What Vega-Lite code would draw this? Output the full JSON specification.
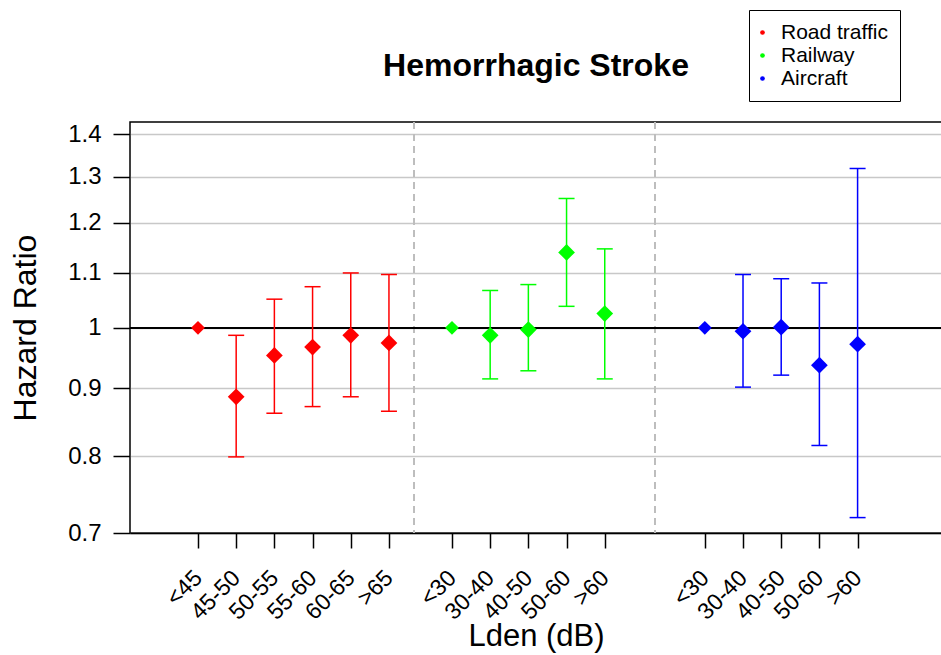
{
  "$schema": "https://vega.github.io/schema/vega-lite/v6.json",
  "width": 812,
  "height": 411,
  "autosize": {"type": "none"},
  "padding": {"left": 130, "top": 122, "right": 0, "bottom": 122},
  "background": "white",
  "config": {
    "view": {"stroke": "black", "strokeWidth": 1.5},
    "font": "Liberation Sans",
    "axis": {
      "labelFont": "Liberation Sans",
      "titleFont": "Liberation Sans",
      "labelColor": "black",
      "titleColor": "black",
      "tickColor": "black",
      "tickWidth": 1.5,
      "domainColor": "black",
      "domainWidth": 1.5,
      "titleFontWeight": "normal"
    }
  },
  "title": {
    "text": "Hemorrhagic Stroke",
    "font": "Liberation Sans",
    "fontSize": 32,
    "fontWeight": "bold",
    "color": "black",
    "anchor": "middle",
    "frame": "group",
    "baseline": "alphabetic",
    "offset": -98
  },
  "data": {
    "values": [
      {"source": "Road traffic", "label": "<45", "slot": 1, "hr": 1.0, "lo": null, "hi": null},
      {"source": "Road traffic", "label": "45-50", "slot": 2, "hr": 0.887, "lo": 0.799, "hi": 0.987},
      {"source": "Road traffic", "label": "50-55", "slot": 3, "hr": 0.953, "lo": 0.862, "hi": 1.051},
      {"source": "Road traffic", "label": "55-60", "slot": 4, "hr": 0.967, "lo": 0.872, "hi": 1.074},
      {"source": "Road traffic", "label": "60-65", "slot": 5, "hr": 0.987, "lo": 0.887, "hi": 1.1},
      {"source": "Road traffic", "label": ">65", "slot": 6, "hr": 0.974, "lo": 0.865, "hi": 1.097},
      {"source": "Railway", "label": "<30", "slot": 7.65, "hr": 1.0, "lo": null, "hi": null},
      {"source": "Railway", "label": "30-40", "slot": 8.65, "hr": 0.987, "lo": 0.915, "hi": 1.067},
      {"source": "Railway", "label": "40-50", "slot": 9.65, "hr": 0.997, "lo": 0.928, "hi": 1.078},
      {"source": "Railway", "label": "50-60", "slot": 10.65, "hr": 1.14, "lo": 1.038, "hi": 1.252},
      {"source": "Railway", "label": ">60", "slot": 11.65, "hr": 1.025, "lo": 0.915, "hi": 1.147},
      {"source": "Aircraft", "label": "<30", "slot": 14.27, "hr": 1.0, "lo": null, "hi": null},
      {"source": "Aircraft", "label": "30-40", "slot": 15.27, "hr": 0.994, "lo": 0.902, "hi": 1.097},
      {"source": "Aircraft", "label": "40-50", "slot": 16.27, "hr": 1.001, "lo": 0.921, "hi": 1.089},
      {"source": "Aircraft", "label": "50-60", "slot": 17.27, "hr": 0.937, "lo": 0.815, "hi": 1.081},
      {"source": "Aircraft", "label": ">60", "slot": 18.27, "hr": 0.972, "lo": 0.719, "hi": 1.319}
    ]
  },
  "encoding": {
    "x": {
      "field": "slot",
      "type": "quantitative",
      "scale": {"domain": [-0.78, 20.48], "nice": false, "zero": false},
      "axis": {
        "title": "Lden (dB)",
        "titleFontSize": 31,
        "titlePadding": -3,
        "values": [1, 2, 3, 4, 5, 6, 7.65, 8.65, 9.65, 10.65, 11.65, 14.27, 15.27, 16.27, 17.27, 18.27],
        "labelExpr": "({'1':'<45','2':'45-50','3':'50-55','4':'55-60','5':'60-65','6':'>65','7.65':'<30','8.65':'30-40','9.65':'40-50','10.65':'50-60','11.65':'>60','14.27':'<30','15.27':'30-40','16.27':'40-50','17.27':'50-60','18.27':'>60'})[datum.value]",
        "labelAngle": -45,
        "labelAlign": "right",
        "labelBaseline": "middle",
        "labelFontSize": 23,
        "labelPadding": 26,
        "labelOverlap": false,
        "labelBound": false,
        "tickSize": 15,
        "grid": false
      }
    },
    "color": {
      "field": "source",
      "type": "nominal",
      "scale": {"domain": ["Road traffic", "Railway", "Aircraft"], "range": ["#ff0000", "#00ff00", "#0000ff"]},
      "legend": {
        "orient": "none",
        "legendX": 619,
        "legendY": -112,
        "title": null,
        "symbolType": "circle",
        "symbolSize": 22,
        "symbolStrokeWidth": 0,
        "symbolOpacity": 1,
        "symbolOffset": -9,
        "labelFont": "Liberation Sans",
        "labelFontSize": 21,
        "labelColor": "black",
        "labelOffset": 8,
        "rowPadding": 1,
        "padding": 12,
        "strokeColor": "black",
        "fillColor": "white"
      }
    }
  },
  "layer": [
    {
      "mark": {"type": "rule", "color": "#bebebe", "strokeWidth": 1.5, "strokeDash": [7, 5]},
      "encoding": {"x": {"datum": 6.65}, "color": null}
    },
    {
      "mark": {"type": "rule", "color": "#bebebe", "strokeWidth": 1.5, "strokeDash": [7, 5]},
      "encoding": {"x": {"datum": 12.96}, "color": null}
    },
    {
      "mark": {"type": "rule", "color": "black", "strokeWidth": 1.5},
      "encoding": {
        "y": {"datum": 1, "type": "quantitative", "title": "Hazard Ratio"},
        "x": null,
        "color": null
      }
    },
    {
      "mark": {"type": "rule", "strokeWidth": 1.5},
      "encoding": {
        "y": {"field": "lo", "type": "quantitative", "title": "Hazard Ratio"},
        "y2": {"field": "hi"}
      }
    },
    {
      "mark": {"type": "tick", "orient": "horizontal", "size": 16, "thickness": 1.5, "opacity": 1},
      "encoding": {
        "y": {"field": "lo", "type": "quantitative", "title": "Hazard Ratio"}
      }
    },
    {
      "mark": {"type": "tick", "orient": "horizontal", "size": 16, "thickness": 1.5, "opacity": 1},
      "encoding": {
        "y": {"field": "hi", "type": "quantitative", "title": "Hazard Ratio"}
      }
    },
    {
      "mark": {"type": "point", "shape": "diamond", "filled": true, "opacity": 1},
      "encoding": {
        "y": {
          "field": "hr",
          "type": "quantitative",
          "title": "Hazard Ratio",
          "scale": {"type": "log", "domain": [0.7, 1.43], "nice": false},
          "axis": {
            "values": [0.7, 0.8, 0.9, 1, 1.1, 1.2, 1.3, 1.4],
            "format": "~g",
            "labelFontSize": 24,
            "labelPadding": 12,
            "tickSize": 17,
            "grid": true,
            "gridColor": "#c8c8c8",
            "gridWidth": 1.5,
            "domain": false,
            "titleFontSize": 32,
            "titlePadding": 25
          }
        },
        "size": {"condition": {"test": "datum.lo == null", "value": 190}, "value": 280}
      }
    }
  ]
}
